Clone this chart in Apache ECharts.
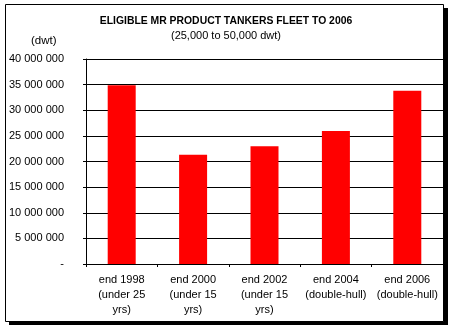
<!DOCTYPE html>
<html>
<head>
<meta charset="utf-8">
<script src="https://cdn.jsdelivr.net/npm/echarts@6/dist/echarts.min.js"></script>
<style>html,body{margin:0;padding:0;background:#fff}#c{width:452px;height:328px}</style>
</head>
<body>
<div id="c"></div>
<script>
const categories = ["end 1998\n(under 25\nyrs)", "end 2000\n(under 15\nyrs)", "end 2002\n(under 15\nyrs)", "end 2004\n(double-hull)", "end 2006\n(double-hull)"];
const fleetDwt = [34900000, 21300000, 23000000, 25950000, 33800000];
const titleText = "ELIGIBLE MR PRODUCT TANKERS FLEET TO 2006";
const subtitleText = "(25,000 to 50,000 dwt)";
const unitText = "(dwt)";

const FONT = "'Liberation Sans', Arial, sans-serif";
const chart = echarts.init(document.getElementById('c'), null, {renderer: 'canvas'});
function fmt(v) {
  if (v === 0) return '-';
  return String(v).replace(/\B(?=(\d{3})+(?!\d))/g, ' ');
}
chart.setOption({
  animation: false,
  backgroundColor: '#fff',
  textStyle: {fontFamily: FONT},
  graphic: {
    elements: [
      {type: 'rect', z: -10, shape: {x: 9, y: 8, width: 439, height: 317}, style: {fill: '#000'}},
      {type: 'rect', z: -9, shape: {x: 5.5, y: 4.5, width: 438, height: 317}, style: {fill: '#fff', stroke: '#000', lineWidth: 1}},
      {type: 'text', z: 10, left: 'center', top: 16, style: {text: titleText, font: 'bold 10.4px ' + FONT, fill: '#000'}},
      {type: 'text', z: 10, left: 'center', top: 30, style: {text: subtitleText, font: '11px ' + FONT, fill: '#000'}},
      {type: 'text', z: 10, left: 31, top: 35, style: {text: unitText, font: '11.5px ' + FONT, fill: '#000'}}
    ]
  },
  grid: {left: 86, right: 9, top: 59, bottom: 64, containLabel: false},
  xAxis: {
    type: 'category',
    data: categories,
    axisLine: {show: true, lineStyle: {color: '#000', width: 1}},
    axisTick: {show: true, length: 3, lineStyle: {color: '#000'}},
    axisLabel: {color: '#000', fontSize: 11, fontFamily: FONT, lineHeight: 15, margin: 8, interval: 0}
  },
  yAxis: {
    type: 'value',
    min: 0, max: 40000000, interval: 5000000,
    axisLine: {show: true, lineStyle: {color: '#000', width: 1}},
    axisTick: {show: true, length: 3, lineStyle: {color: '#000'}},
    splitLine: {show: true, lineStyle: {color: '#000', width: 1}},
    axisLabel: {color: '#000', fontSize: 11, fontFamily: FONT, margin: 22, formatter: fmt}
  },
  series: [{
    type: 'bar',
    data: fleetDwt,
    barWidth: 28,
    itemStyle: {color: '#ff0000'}
  }]
});
</script>
</body>
</html>
